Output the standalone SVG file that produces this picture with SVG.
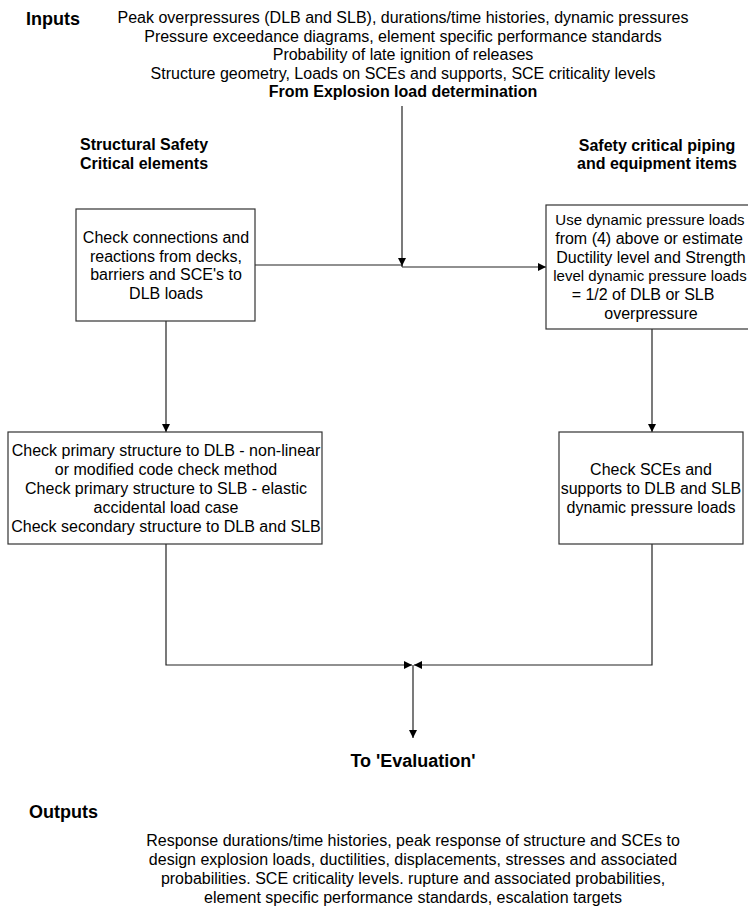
<svg xmlns="http://www.w3.org/2000/svg" width="748" height="907" viewBox="0 0 748 907">
<style>
text{font-family:"Liberation Sans",Arial,sans-serif;font-size:16px;fill:#000}
.h{font-weight:bold;font-size:18px}
.b{font-weight:bold}
.c{text-anchor:middle}
.s{font-size:15px}
.box{fill:#fff;stroke:#333;stroke-width:1.2}
.ln{fill:none;stroke:#222;stroke-width:1.2}
</style>
<defs>
<marker id="ah" viewBox="0 0 10 10" refX="10" refY="5" markerWidth="8" markerHeight="8" markerUnits="userSpaceOnUse" orient="auto">
<path d="M0,0 L10,5 L0,10 Z" fill="#000"/>
</marker>
</defs>
<rect width="748" height="907" fill="#fff"/>

<g id="inputs">
<text class="h" x="26" y="25">Inputs</text>
<text class="c" x="403" y="23">Peak overpressures (DLB and SLB), durations/time histories, dynamic pressures</text>
<text class="c" x="403" y="42">Pressure exceedance diagrams, element specific performance standards</text>
<text class="c" x="403" y="60">Probability of late ignition of releases</text>
<text class="c" x="403" y="79">Structure geometry, Loads on SCEs and supports, SCE criticality levels</text>
<text class="c b" x="403" y="97">From Explosion load determination</text>
</g>

<g id="label-structural">
<text class="b" x="80" y="150">Structural Safety</text>
<text class="b" x="80" y="169">Critical elements</text>
</g>
<g id="label-piping">
<text class="c b" x="657" y="151">Safety critical piping</text>
<text class="c b" x="657" y="169">and equipment items</text>
</g>

<g id="connectors">
<line class="ln" x1="402" y1="106" x2="402" y2="266" marker-end="url(#ah)"/>
<polyline class="ln" points="255,265 402,265 402,267"/>
<line class="ln" x1="402" y1="267" x2="546" y2="267" marker-end="url(#ah)"/>
<line class="ln" x1="166" y1="321" x2="166" y2="432" marker-end="url(#ah)"/>
<line class="ln" x1="652" y1="329" x2="652" y2="432" marker-end="url(#ah)"/>
<polyline class="ln" points="166,544 166,665 412,665" marker-end="url(#ah)"/>
<polyline class="ln" points="652,544 652,665 414,665" marker-end="url(#ah)"/>
<line class="ln" x1="413" y1="665" x2="413" y2="738" marker-end="url(#ah)"/>
</g>

<g id="box-connections">
<rect class="box" x="76" y="209" width="179" height="112"/>
<text class="c" x="166" y="243">Check connections and</text>
<text class="c" x="166" y="262">reactions from decks,</text>
<text class="c" x="166" y="280">barriers and SCE's to</text>
<text class="c" x="166" y="299">DLB loads</text>
</g>

<g id="box-dynamic">
<rect class="box" x="546" y="205" width="210" height="124"/>
<text class="c s" x="650" y="225">Use dynamic pressure loads</text>
<text class="c" x="649" y="244">from (4) above or estimate</text>
<text class="c" x="651" y="263">Ductility level and Strength</text>
<text class="c s" x="650" y="281">level dynamic pressure loads</text>
<text class="c" x="643" y="300">= 1/2 of DLB or SLB</text>
<text class="c" x="651" y="319">overpressure</text>
</g>

<g id="box-primary">
<rect class="box" x="8" y="432" width="314" height="112"/>
<text class="c" x="166" y="456">Check primary structure to DLB - non-linear</text>
<text class="c" x="166" y="475">or modified code check method</text>
<text class="c" x="166" y="494">Check primary structure to SLB - elastic</text>
<text class="c" x="166" y="513">accidental load case</text>
<text class="c" x="166" y="532">Check secondary structure to DLB and SLB</text>
</g>

<g id="box-sces">
<rect class="box" x="559" y="432" width="184" height="112"/>
<text class="c" x="651" y="475">Check SCEs and</text>
<text class="c" x="651" y="494">supports to DLB and SLB</text>
<text class="c" x="651" y="513">dynamic pressure loads</text>
</g>

<g id="to-evaluation">
<text class="c h" x="413" y="767">To 'Evaluation'</text>
</g>

<g id="outputs">
<text class="h" x="29" y="818">Outputs</text>
<text class="c" x="413" y="846">Response durations/time histories, peak response of structure and SCEs to</text>
<text class="c" x="413" y="865">design explosion loads, ductilities, displacements, stresses and associated</text>
<text class="c" x="413" y="884">probabilities. SCE criticality levels. rupture and associated probabilities,</text>
<text class="c" x="413" y="903">element specific performance standards, escalation targets</text>
</g>
</svg>
